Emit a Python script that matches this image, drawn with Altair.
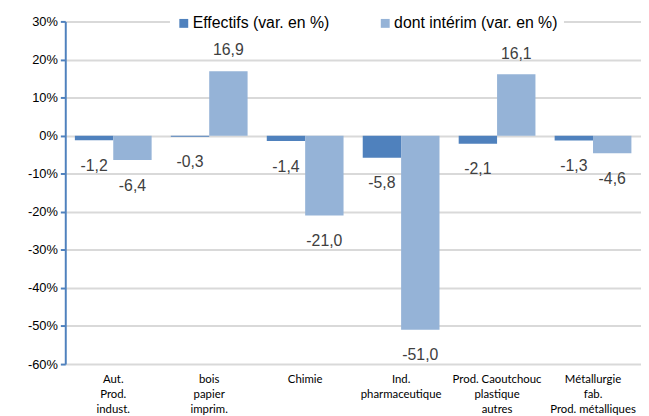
import altair as alt
import pandas as pd

categories = [
    "Aut.\nProd.\nindust.",
    "bois\npapier\nimprim.",
    "Chimie",
    "Ind.\npharmaceutique",
    "Prod. Caoutchouc\nplastique\nautres",
    "Métallurgie\nfab.\nProd. métalliques",
]
series_names = ["Effectifs (var. en %)", "dont intérim (var. en %)"]
effectifs = [-1.2, -0.3, -1.4, -5.8, -2.1, -1.3]
interim = [-6.4, 16.9, -21.0, -51.0, 16.1, -4.6]
y_ticks = [-60, -50, -40, -30, -20, -10, 0, 10, 20, 30]
colors = ["#4f81bd", "#95b3d7"]

rows = []
for s, vals in zip(series_names, [effectifs, interim]):
    for c, v in zip(categories, vals):
        rows.append({"cat": c, "series": s, "value": v,
                     "label": f"{v:.1f}".replace(".", ",")})
df = pd.DataFrame(rows)

x_enc = alt.X("cat:N", sort=categories, title=None,
              scale=alt.Scale(paddingInner=0.2, paddingOuter=0.1),
              axis=alt.Axis(labelAngle=0, domain=False, ticks=False, grid=False,
                            labelExpr="split(datum.label, '\\n')",
                            labelFont="Lato", labelFontSize=11.5, labelColor="#000000",
                            labelLineHeight=15, labelPadding=10, labelBaseline="top"))
xo_enc = alt.XOffset("series:N", sort=series_names,
                     scale=alt.Scale(paddingInner=0, paddingOuter=0))
y_enc = alt.Y("value:Q", title=None,
              scale=alt.Scale(domain=[-60, 30], nice=False, zero=True),
              axis=alt.Axis(values=y_ticks, labelExpr="datum.value + '%'",
                            labelOverlap=False,
                            domainColor="#4f81bd", domainWidth=2,
                            tickColor="#4f81bd", tickWidth=2, tickSize=5,
                            gridColor="#d9d9d9", gridWidth=2,
                            labelFont="Liberation Sans", labelFontSize=13,
                            labelColor="#000000", labelPadding=3))

base = alt.Chart(df)

bars = base.mark_bar().encode(
    x=x_enc,
    xOffset=xo_enc,
    y=y_enc,
    color=alt.Color("series:N", sort=series_names,
                    scale=alt.Scale(domain=series_names, range=colors),
                    legend=alt.Legend(title=None, orient="none", direction="horizontal",
                                      legendX=106, legendY=-12,
                                      fillColor="white", padding=6,
                                      symbolType="square", symbolSize=81,
                                      symbolStrokeWidth=0,
                                      labelFont="Liberation Sans", labelFontSize=16,
                                      labelColor="#000000", labelOffset=1,
                                      labelLimit=400,
                                      columnPadding=48)),
)

text_common = dict(font="Liberation Sans", fontSize=16, color="#404040", baseline="middle")

neg_text = base.mark_text(dy=26, **text_common).encode(
    x=x_enc, xOffset=xo_enc, y=y_enc, text="label:N",
).transform_filter("datum.value < 0")

pos_text = base.mark_text(dy=-21, **text_common).encode(
    x=x_enc, xOffset=xo_enc, y=y_enc, text="label:N",
).transform_filter("datum.value >= 0")

chart = alt.layer(bars, neg_text, pos_text).properties(
    width=583, height=347,
    autosize=alt.AutoSizeParams(type="none"),
    padding={"left": 58, "top": 11, "right": 0, "bottom": 50},
).configure_view(stroke=None)

chart.save("out.html", embed_options={"renderer": "svg", "actions": False})
